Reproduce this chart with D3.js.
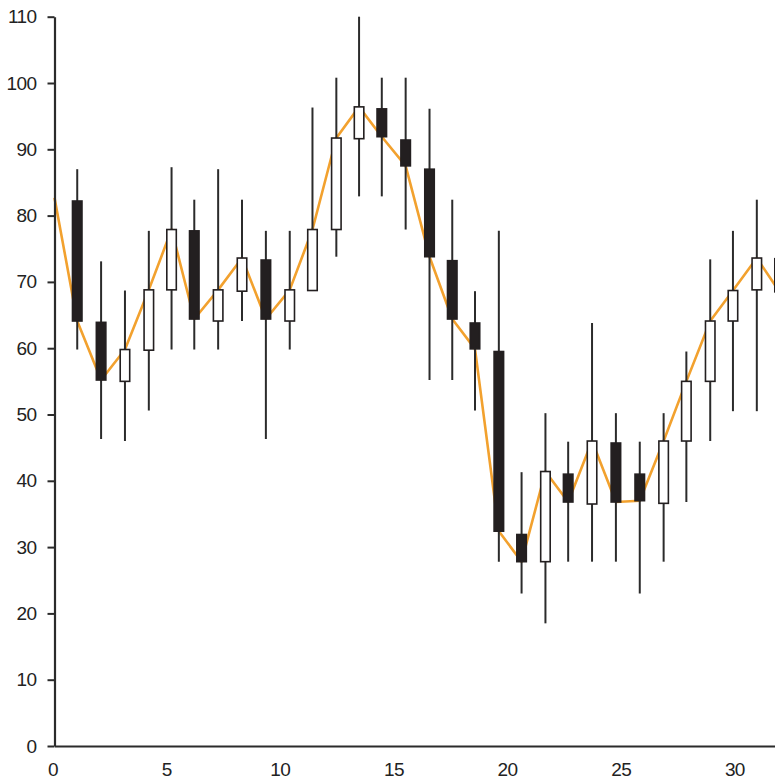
<!DOCTYPE html>
<html>
<head>
<meta charset="utf-8">
<script src="https://cdn.jsdelivr.net/npm/d3@7"></script>
<style>
  html, body { margin: 0; padding: 0; background: #fff; }
  svg { display: block; }
  .tick text { font-family: "Liberation Sans", Arial, sans-serif; font-size: 19px; fill: #222; letter-spacing: -0.6px; }
</style>
</head>
<body>
<svg id="chart" width="775" height="783"></svg>
<script>
// ---- data ----
const xPos      = [1.0, 2.05, 3.1, 4.15, 5.15, 6.15, 7.2, 8.25, 9.3, 10.35, 11.35, 12.4, 13.4, 14.4, 15.45, 16.5, 17.5, 18.5, 19.55, 20.55, 21.6, 22.6, 23.65, 24.7, 25.75, 26.8, 27.8, 28.85, 29.85, 30.9, 31.9];
const openVals  = [82.2, 63.9, 55.0, 59.7, 68.8, 77.7, 64.1, 68.6, 73.3, 64.1, 68.7, 77.9, 91.6, 96.1, 91.4, 87.0, 73.2, 63.8, 59.5, 31.9, 27.8, 41.0, 36.5, 45.7, 41.0, 36.6, 46.0, 55.0, 64.1, 68.8, 73.5];
const highVals  = [87.0, 73.1, 68.7, 77.7, 87.3, 82.4, 87.0, 82.4, 77.7, 77.7, 96.3, 100.8, 110.0, 100.8, 100.8, 96.1, 82.4, 68.6, 77.7, 41.3, 50.2, 45.9, 63.8, 50.2, 45.9, 50.2, 59.5, 73.4, 77.7, 82.4, 78.0];
const lowVals   = [59.8, 46.3, 46.0, 50.6, 59.8, 59.8, 59.8, 64.1, 46.3, 59.8, 68.7, 73.8, 82.9, 82.9, 77.9, 55.2, 55.2, 50.6, 27.8, 23.0, 18.5, 27.8, 27.8, 27.8, 23.0, 27.8, 36.8, 46.0, 50.5, 50.5, 55.0];
const closeVals = [64.1, 55.2, 59.8, 68.8, 77.9, 64.4, 68.8, 73.6, 64.4, 68.8, 77.9, 91.7, 96.4, 91.9, 87.5, 73.8, 64.4, 59.9, 32.4, 27.8, 41.4, 36.8, 46.0, 36.8, 37.0, 46.0, 55.0, 64.1, 68.7, 73.6, 68.5];
const lineStartX = 0;
const lineStartY = 82.7;
const yTicks = [0, 10, 20, 30, 40, 50, 60, 70, 80, 90, 100, 110];
const xTicks = [0, 5, 10, 15, 20, 25, 30];

// ---- layout ----
const svg = d3.select("#chart");
const x = d3.scaleLinear().domain([0, 31.7]).range([54.5, 775]);
const y = d3.scaleLinear().domain([0, 110]).range([746, 16.7]);

const candles = xPos.map((xv, i) => ({
  x: xv, open: openVals[i], high: highVals[i], low: lowVals[i], close: closeVals[i]
}));

const plot = svg.append("g");

// close line (behind candles)
const linePts = [{x: lineStartX, v: lineStartY}].concat(candles.map(c => ({x: c.x, v: c.close})));
plot.append("path")
  .datum(linePts)
  .attr("fill", "none")
  .attr("stroke", "#F2A12E")
  .attr("stroke-width", 2.6)
  .attr("stroke-linejoin", "round")
  .attr("d", d3.line().x(d => x(d.x)).y(d => y(d.v)));

// wicks
plot.selectAll("line.wick")
  .data(candles).join("line")
  .attr("class", "wick")
  .attr("x1", d => x(d.x)).attr("x2", d => x(d.x))
  .attr("y1", d => y(d.high)).attr("y2", d => y(d.low))
  .attr("stroke", "#2b2b2b")
  .attr("stroke-width", 2);

// bodies
const bw = 9.5;
plot.selectAll("rect.body")
  .data(candles).join("rect")
  .attr("class", "body")
  .attr("x", d => x(d.x) - bw / 2)
  .attr("width", bw)
  .attr("y", d => y(Math.max(d.open, d.close)))
  .attr("height", d => Math.max(1, Math.abs(y(d.open) - y(d.close))))
  .attr("fill", d => d.close < d.open ? "#231f20" : "#ffffff")
  .attr("stroke", "#231f20")
  .attr("stroke-width", 1.6);

// axes
const yAxis = svg.append("g")
  .attr("transform", `translate(${x(0)},0)`)
  .call(d3.axisLeft(y).tickValues(yTicks).tickSize(7).tickSizeOuter(0).tickPadding(11));
yAxis.select(".domain").attr("stroke", "#2b2b2b").attr("stroke-width", 2.2);
yAxis.selectAll(".tick line").attr("stroke", "#2b2b2b").attr("stroke-width", 2);

const xAxis = svg.append("g")
  .attr("transform", `translate(0,${y(0)})`)
  .call(d3.axisBottom(x).tickValues(xTicks).tickSize(0).tickSizeOuter(0).tickPadding(17).tickFormat(d3.format("d")));
xAxis.select(".domain").attr("stroke", "#2b2b2b").attr("stroke-width", 2.2);
xAxis.selectAll(".tick text").attr("dx", "-2");
</script>
</body>
</html>
